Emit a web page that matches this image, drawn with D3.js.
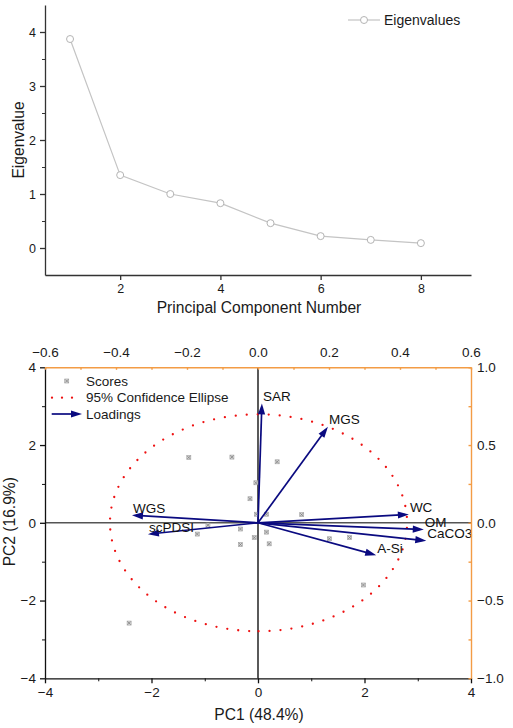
<!DOCTYPE html>
<html>
<head>
<meta charset="utf-8">
<script src="https://cdn.jsdelivr.net/npm/d3@7"></script>
<style>
  html, body { margin: 0; padding: 0; background: #fff; }
  svg { display: block; font-family: "Liberation Sans", Arial, sans-serif; }
</style>
</head>
<body>
<svg id="chart" width="513" height="728"></svg>
<script>
// ---------- DATA ----------
// Scree plot
const componentNumbers = [1, 2, 3, 4, 5, 6, 7, 8];
const eigenvalues = [3.87, 1.35, 1.0, 0.83, 0.46, 0.22, 0.15, 0.09];
const screeXTicks = [2, 4, 6, 8];
const screeYTicks = [0, 1, 2, 3, 4];
const screeYMinorTicks = [0.5, 1.5, 2.5, 3.5];

// Biplot scores
const scoresPC1 = [-1.30, -0.49, 0.36, -0.04, -0.15, -0.03, 0.16, 0.82, -0.94, -1.14, -0.33, -0.07, 0.16, -0.33, 0.21, 1.34, 1.72, 1.98, -2.42];
const scoresPC2 = [1.68, 1.69, 1.57, 1.03, 0.62, 0.22, 0.22, 0.21, -0.06, -0.29, -0.16, -0.38, -0.24, -0.56, -0.54, -0.41, -0.38, -1.60, -2.58];

// Loadings
const loadingNames = ["SAR", "MGS", "WC", "OM", "CaCO3", "A-Si", "WGS", "scPDSI"];
const loadingPC1 = [0.011, 0.197, 0.425, 0.467, 0.474, 0.333, -0.355, -0.310];
const loadingPC2 = [0.768, 0.617, 0.054, -0.043, -0.116, -0.208, 0.049, -0.073];

// 95% confidence ellipse: [centerX, centerY, radiusX, radiusY] in score units
const ellipseParams = [0.01, 0.0, 2.79, 2.79];

// Biplot axis ticks
const pcMajorTicks = [-4, -2, 0, 2, 4];
const pcMinorTicks = [-3, -1, 1, 3];
const topTicks = [-0.6, -0.5, -0.4, -0.3, -0.2, -0.1, 0.0, 0.1, 0.2, 0.3, 0.4, 0.5, 0.6];
const topLabelTicks = [-0.6, -0.4, -0.2, 0.0, 0.2, 0.4, 0.6];
const rightTicks = [-1.0, -0.75, -0.5, -0.25, 0.0, 0.25, 0.5, 0.75, 1.0];
const rightLabelTicks = [-1.0, -0.5, 0.0, 0.5, 1.0];

// ---------- DRAW ----------
const svg = d3.select("#chart");
const ink = "#1a1a1a";
const orange = "#f39c45";
const navy = "#0a0a80";

// ===== Scree plot =====
const sx = d3.scaleLinear().domain([0.5, 9]).range([45, 471]);
const sy = d3.scaleLinear().domain([-0.5, 4.5]).range([275, 5]);
const scree = svg.append("g");

const sxAxis = scree.append("g").attr("transform", "translate(0,275)")
  .call(d3.axisBottom(sx).tickValues(screeXTicks).tickFormat(d3.format("d")).tickSize(5).tickSizeOuter(0).tickPadding(4.5));
const syAxis = scree.append("g").attr("transform", "translate(45,0)")
  .call(d3.axisLeft(sy).tickValues(screeYTicks).tickFormat(d3.format("d")).tickSize(5).tickSizeOuter(0).tickPadding(4));
scree.append("g").attr("transform", "translate(45,0)")
  .call(d3.axisLeft(sy).tickValues(screeYMinorTicks).tickFormat("").tickSize(3).tickSizeOuter(0))
  .select(".domain").remove();
[sxAxis, syAxis].forEach(a => {
  a.selectAll("text").style("font-size", "12.5px").attr("fill", ink);
  a.selectAll("line,path").attr("stroke", "#333").attr("stroke-width", 1.3);
});
scree.selectAll("line").attr("stroke", "#333");

const screeLine = d3.line().x((d, i) => sx(componentNumbers[i])).y(d => sy(d));
scree.append("path").datum(eigenvalues).attr("d", screeLine)
  .attr("fill", "none").attr("stroke", "#c4c4c4").attr("stroke-width", 1.2);
scree.selectAll("circle.pt").data(eigenvalues).join("circle").attr("class", "pt")
  .attr("cx", (d, i) => sx(componentNumbers[i])).attr("cy", d => sy(d)).attr("r", 3.5)
  .attr("fill", "#fff").attr("stroke", "#b4b4b4").attr("stroke-width", 1);

// legend
scree.append("line").attr("x1", 348).attr("x2", 380).attr("y1", 20).attr("y2", 20)
  .attr("stroke", "#c4c4c4").attr("stroke-width", 1.2);
scree.append("circle").attr("cx", 364).attr("cy", 20).attr("r", 3.5)
  .attr("fill", "#fff").attr("stroke", "#b4b4b4");
scree.append("text").attr("x", 384).attr("y", 24.5).style("font-size", "14px").attr("fill", ink).text("Eigenvalues");

scree.append("text").attr("x", 259).attr("y", 313).attr("text-anchor", "middle")
  .style("font-size", "15.6px").attr("fill", ink).text("Principal Component Number");
scree.append("text").attr("transform", "translate(24,140) rotate(-90)").attr("text-anchor", "middle")
  .style("font-size", "15.6px").attr("fill", ink).text("Eigenvalue");

// ===== Biplot =====
const L = 45, R = 471, T = 367.3, B = 678.3;
const px = d3.scaleLinear().domain([-4, 4]).range([L, R]);
const py = d3.scaleLinear().domain([-4, 4]).range([B, T]);
const lx = d3.scaleLinear().domain([-0.6, 0.6]).range([L, R]);
const ly = d3.scaleLinear().domain([-1, 1]).range([B, T]);
const bi = svg.append("g");

// zero lines
bi.append("line").attr("x1", L).attr("x2", R).attr("y1", py(0)).attr("y2", py(0))
  .attr("stroke", "#555").attr("stroke-width", 1.5);
bi.append("line").attr("x1", px(0)).attr("x2", px(0)).attr("y1", T).attr("y2", B)
  .attr("stroke", "#000").attr("stroke-width", 1.3);

// ellipse (dotted)
const ellAngles = d3.range(0, 361, 2).map(a => a * Math.PI / 180);
const ellLine = d3.line()
  .x(t => px(ellipseParams[0] + ellipseParams[2] * Math.sin(t)))
  .y(t => py(ellipseParams[1] - ellipseParams[3] * Math.cos(t)));
bi.append("path").datum(ellAngles).attr("d", ellLine).attr("fill", "none")
  .attr("stroke", "#ee1111").attr("stroke-width", 2.3).attr("stroke-linecap", "round")
  .attr("stroke-dasharray", "0 11");

// score markers
function scoreMarker(g, x, y) {
  g.append("rect").attr("x", x - 2).attr("y", y - 2).attr("width", 4).attr("height", 4)
    .attr("fill", "#d8d8d8").attr("stroke", "#aaa").attr("stroke-width", 0.7);
  g.append("path").attr("d", `M${x-1.6},${y-1.6}L${x+1.6},${y+1.6}M${x-1.6},${y+1.6}L${x+1.6},${y-1.6}`)
    .attr("stroke", "#777").attr("stroke-width", 0.7);
}
const scoreG = bi.append("g");
scoresPC1.forEach((v, i) => scoreMarker(scoreG, px(v), py(scoresPC2[i])));

// arrowhead marker
const defs = svg.append("defs");
defs.append("marker").attr("id", "ah").attr("markerUnits", "userSpaceOnUse")
  .attr("viewBox", "0 -4 11 8").attr("refX", 11).attr("refY", 0)
  .attr("markerWidth", 11).attr("markerHeight", 8).attr("orient", "auto")
  .append("path").attr("d", "M0,-3.6L11,0L0,3.6Z").attr("fill", navy);

function arrow(g, x1, y1, x2, y2) {
  const dx = x2 - x1, dy = y2 - y1, len = Math.hypot(dx, dy);
  const shorten = 4;
  const ex = x2 - dx / len * shorten, ey = y2 - dy / len * shorten;
  g.append("line").attr("x1", x1).attr("y1", y1).attr("x2", ex).attr("y2", ey)
    .attr("stroke", navy).attr("stroke-width", 1.7);
  // head placed exactly at tip
  const ang = Math.atan2(dy, dx) * 180 / Math.PI;
  g.append("path").attr("d", "M0,0L-11,-3.6L-11,3.6Z").attr("fill", navy)
    .attr("transform", `translate(${x2},${y2}) rotate(${ang})`);
}
const loadG = bi.append("g");
loadingNames.forEach((name, i) => {
  const tx = lx(loadingPC1[i]), ty = ly(loadingPC2[i]);
  arrow(loadG, lx(0), ly(0), tx, ty);
});
loadingNames.forEach((name, i) => {
  const tx = lx(loadingPC1[i]), ty = ly(loadingPC2[i]);
  loadG.append("text").attr("x", tx + 1).attr("y", ty - 2.5).style("font-size", "13.5px")
    .attr("fill", "#111").text(name);
});

// axes: left & bottom (black)
const leftAx = bi.append("g").attr("transform", `translate(${L},0)`)
  .call(d3.axisLeft(py).tickValues(pcMajorTicks).tickFormat(d3.format("d")).tickSize(5).tickSizeOuter(0).tickPadding(4));
bi.append("g").attr("transform", `translate(${L},0)`)
  .call(d3.axisLeft(py).tickValues(pcMinorTicks).tickFormat("").tickSize(3).tickSizeOuter(0))
  .select(".domain").remove();
const botAx = bi.append("g").attr("transform", `translate(0,${B})`)
  .call(d3.axisBottom(px).tickValues(pcMajorTicks).tickFormat(d3.format("d")).tickSize(5).tickSizeOuter(0).tickPadding(4));
bi.append("g").attr("transform", `translate(0,${B})`)
  .call(d3.axisBottom(px).tickValues(pcMinorTicks).tickFormat("").tickSize(3).tickSizeOuter(0))
  .select(".domain").remove();

// axes: top & right (orange, inward ticks)
const topAx = bi.append("g").attr("transform", `translate(0,${T})`)
  .call(d3.axisTop(lx).tickValues(topTicks).tickFormat(d => topLabelTicks.some(v => Math.abs(v - d) < 1e-9) ? d3.format(".1f")(d) : "")
    .tickSize(-2.5).tickSizeOuter(0).tickPadding(10));
const rightAx = bi.append("g").attr("transform", `translate(${R},0)`)
  .call(d3.axisRight(ly).tickValues(rightTicks).tickFormat(d => rightLabelTicks.some(v => Math.abs(v - d) < 1e-9) ? d3.format(".1f")(d) : "")
    .tickSize(-2.5).tickSizeOuter(0).tickPadding(6));

bi.selectAll(".tick text").style("font-size", "13.5px").attr("fill", ink);
[leftAx, botAx].forEach(a => a.selectAll("line,path").attr("stroke", "#111").attr("stroke-width", 1.3));
bi.selectAll("g > .tick line").attr("stroke", "#111");
[topAx, rightAx].forEach(a => a.selectAll("line,path").attr("stroke", orange).attr("stroke-width", 1.4));

// legend
scoreMarker(bi, 66.7, 381);
bi.append("text").attr("x", 86).attr("y", 385.5).style("font-size", "13.5px").attr("fill", ink).text("Scores");
bi.append("line").attr("x1", 52).attr("x2", 82).attr("y1", 397.7).attr("y2", 397.7)
  .attr("stroke", "#ee1111").attr("stroke-width", 2.3).attr("stroke-linecap", "round").attr("stroke-dasharray", "0 10");
bi.append("text").attr("x", 86).attr("y", 402).style("font-size", "13.5px").attr("fill", ink).text("95% Confidence Ellipse");
arrow(bi, 51.7, 414, 82, 414);
bi.append("text").attr("x", 86).attr("y", 418.5).style("font-size", "13.5px").attr("fill", ink).text("Loadings");

// axis titles
bi.append("text").attr("x", 259).attr("y", 720).attr("text-anchor", "middle")
  .style("font-size", "15.6px").attr("fill", ink).text("PC1 (48.4%)");
bi.append("text").attr("transform", "translate(15,521.7) rotate(-90)").attr("text-anchor", "middle")
  .style("font-size", "15.6px").attr("fill", ink).text("PC2 (16.9%)");
</script>
</body>
</html>
